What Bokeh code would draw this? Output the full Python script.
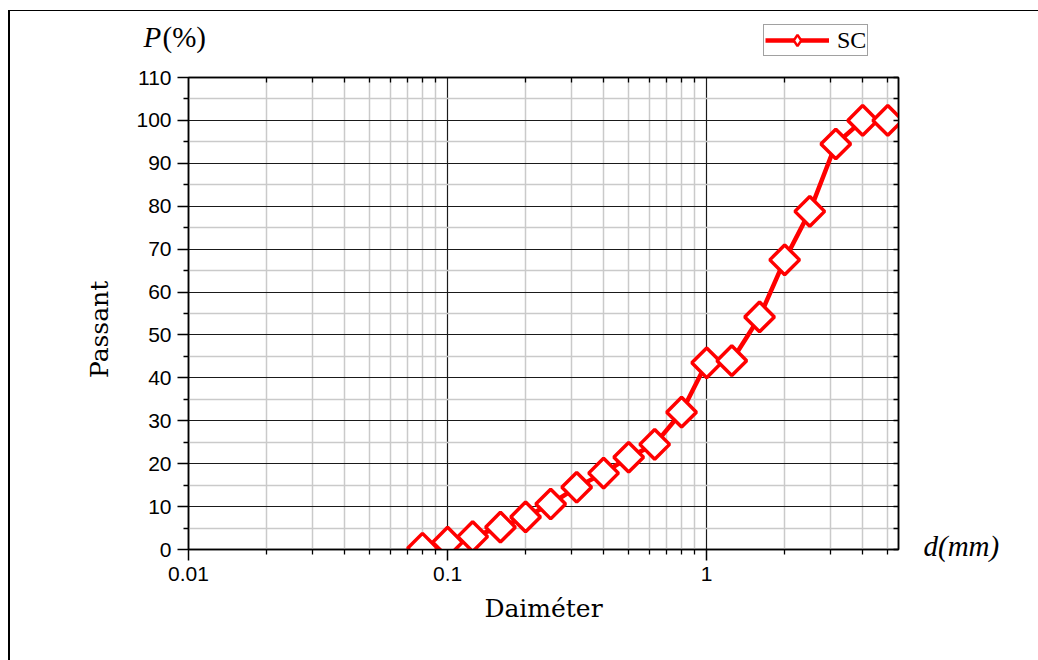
import math
from bokeh.plotting import figure
from bokeh.layouts import column
from bokeh.models import (Legend, LegendItem, FixedTicker, CustomJSTickFormatter,
                          LogAxis, LinearAxis, Range1d, Label)
from bokeh.embed import file_html
from bokeh.resources import INLINE

# ---- data ----
diameter_mm = [0.08, 0.1, 0.125, 0.16, 0.2, 0.25, 0.315, 0.4, 0.5, 0.63, 0.8,
               1.0, 1.25, 1.6, 2.0, 2.5, 3.15, 4.0, 5.0]
passant_pct = [0.3, 1.7, 3.0, 5.2, 7.6, 10.6, 14.5, 17.8, 21.5, 24.5, 32.0,
               43.5, 44.0, 54.2, 67.5, 78.8, 94.5, 100.0, 100.0]
series_name = "SC"

x_major_ticks = [0.01, 0.1, 1]
x_minor_ticks = [k * 10.0 ** e for e in (-2, -1, 0) for k in range(2, 10) if k * 10.0 ** e <= 5.5]
y_major_ticks = list(range(0, 111, 10))
y_minor_ticks = list(range(5, 110, 10))
right_inner_ticks = sorted(y_major_ticks + y_minor_ticks)

RED = "#ff0000"
SANS = "Liberation Sans"
SERIF = "Liberation Serif"
SERIF_WIDE = "DejaVu Serif"

W = 1038
STRIP_H = 60
MAIN_H = 660 - STRIP_H

# ---------------- main chart ----------------
p = figure(width=W, height=MAIN_H, x_axis_type="log",
           x_range=Range1d(0.01, 5.5), y_range=Range1d(0, 110),
           output_backend="svg", toolbar_location=None,
           min_border_left=188, min_border_right=140,
           min_border_top=77 - STRIP_H, min_border_bottom=111,
           background_fill_color="white", border_fill_alpha=0.0,
           outline_line_color="black", outline_line_width=1.5)
p.frame_align = False
# left page rule
p.styles = {"box-shadow": "inset 8px 0 0 0 white, inset 10px 0 0 0 black"}

p.xgrid.ticker = FixedTicker(ticks=x_major_ticks, minor_ticks=x_minor_ticks)
p.ygrid.ticker = FixedTicker(ticks=y_major_ticks, minor_ticks=y_minor_ticks)
for g in (p.xgrid[0], p.ygrid[0]):
    g.grid_line_color = "#1a1a1a"
    g.grid_line_width = 1.2
    g.minor_grid_line_color = "#cacaca"
    g.minor_grid_line_width = 1.5

empty_fmt = CustomJSTickFormatter(code="return '';")

xa = p.xaxis[0]
ya = p.yaxis[0]
xa.ticker = FixedTicker(ticks=x_major_ticks, minor_ticks=x_minor_ticks)
xa.formatter = CustomJSTickFormatter(code="return tick.toString();")
ya.ticker = FixedTicker(ticks=y_major_ticks, minor_ticks=y_minor_ticks)
for ax in (xa, ya):
    ax.axis_line_color = "black"
    ax.axis_line_width = 1.5
    ax.major_tick_line_color = "black"
    ax.major_tick_line_width = 1.5
    ax.major_tick_out = 11
    ax.major_tick_in = 0
    ax.minor_tick_line_color = "black"
    ax.minor_tick_line_width = 1.3
    ax.minor_tick_out = 5
    ax.minor_tick_in = 0
    ax.major_label_text_font = SANS
    ax.major_label_text_font_size = "21px"
    ax.major_label_text_color = "#000000"
    ax.major_label_standoff = 6
xa.axis_label = "Daiméter"
xa.axis_label_text_font = SERIF_WIDE
xa.axis_label_text_font_size = "25px"
xa.axis_label_text_font_style = "normal"
xa.axis_label_text_color = "black"
xa.axis_label_standoff = 10

# extra left axis carrying only the "Passant" title (trailing no-break spaces
# move the visible word a little below the frame centre, as in the reference)
title_axis = LinearAxis(ticker=FixedTicker(ticks=[]), formatter=empty_fmt,
                        axis_line_alpha=0, major_tick_out=0, major_tick_in=0,
                        minor_tick_out=0, minor_tick_in=0, major_label_standoff=0,
                        major_label_text_font_size="1px",
                        axis_label="Passant" + "\u00a0" * 4, axis_label_text_font=SERIF_WIDE,
                        axis_label_text_font_size="25px", axis_label_text_font_style="normal",
                        axis_label_text_color="black", axis_label_standoff=20)
p.add_layout(title_axis, "left")

top = LogAxis(ticker=FixedTicker(ticks=x_major_ticks, minor_ticks=x_minor_ticks),
              formatter=empty_fmt, axis_line_color="black", axis_line_width=1.5,
              major_tick_out=0, major_tick_in=0, minor_tick_out=0, minor_tick_in=5,
              minor_tick_line_color="black", minor_tick_line_width=1.3,
              major_label_standoff=0, major_label_text_font_size="1px")
p.add_layout(top, "above")

right = LinearAxis(ticker=FixedTicker(ticks=[0.7], minor_ticks=right_inner_ticks),
                   formatter=CustomJSTickFormatter(code="return 'd(mm)';"),
                   axis_line_color="black", axis_line_width=1.5,
                   major_tick_out=0, major_tick_in=0, minor_tick_out=0, minor_tick_in=5,
                   minor_tick_line_color="black", minor_tick_line_width=1.3,
                   major_label_standoff=25, major_label_text_font=SERIF,
                   major_label_text_font_style="italic", major_label_text_font_size="29px",
                   major_label_text_color="black")
p.add_layout(right, "right")

line_style = dict(line_color=RED, line_width=4.5)
marker_style = dict(marker="square", angle=math.pi / 4, size=21,
                    line_color=RED, line_width=3.5, fill_color="white")
lr = p.line(diameter_mm, passant_pct, **line_style)
sr = p.scatter(diameter_mm, passant_pct, **marker_style)

# ---------------- header strip: P(%) and legend ----------------
s = figure(width=W, height=STRIP_H, x_range=Range1d(0, W), y_range=Range1d(STRIP_H, 0),
           output_backend="svg", toolbar_location=None,
           x_axis_location=None, y_axis_location=None,
           min_border=0, min_border_left=0, min_border_right=0,
           min_border_top=0, min_border_bottom=0,
           background_fill_alpha=0.0, border_fill_alpha=0.0, outline_line_alpha=0.0)
s.frame_align = False
s.xgrid.visible = False
s.ygrid.visible = False
# top and left page rules
s.styles = {"box-shadow": "inset 8px 10px 0 0 white, inset 10px 11px 0 0 black"}

s.add_layout(Label(x=143, y=36, text="P", text_font=SERIF, text_font_style="italic",
                   text_font_size="29px", text_baseline="middle", text_color="black"))
s.add_layout(Label(x=162, y=36, text="(%)", text_font=SERIF,
                   text_font_size="29px", text_baseline="middle", text_color="black"))

# legend entries for the series (hidden copies of the same data in the header strip;
# the legend draws markers unrotated, so the key uses the diamond marker)
leg_line = s.line(diameter_mm, passant_pct, visible=False, **line_style)
leg_marker = s.scatter(diameter_mm, passant_pct, visible=False, marker="diamond", size=21,
                       line_color=RED, line_width=2.5, fill_color="white")
legend = Legend(items=[LegendItem(label=series_name, renderers=[leg_line, leg_marker])],
                location=(763, STRIP_H - 56), label_text_font=SERIF,
                label_text_font_size="24px", label_text_color="black",
                glyph_width=64, glyph_height=28, padding=1, margin=0, spacing=0,
                label_standoff=8, border_line_color="#444444", border_line_width=1.2,
                background_fill_color="white", background_fill_alpha=1.0,
                inactive_fill_alpha=0.0)
s.add_layout(legend)

layout = column(s, p, spacing=0)
open("out.html", "w").write(file_html(layout, INLINE))
